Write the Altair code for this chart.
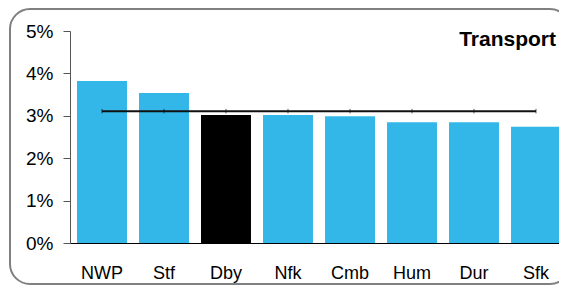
import altair as alt
import pandas as pd

categories = ["NWP", "Stf", "Dby", "Nfk", "Cmb", "Hum", "Dur", "Sfk"]
values = [3.82, 3.54, 3.02, 3.02, 2.99, 2.85, 2.85, 2.74]
average = [3.11, 3.11, 3.11, 3.11, 3.11, 3.11, 3.11, 3.11]
highlight = ["no", "no", "yes", "no", "no", "no", "no", "no"]
y_ticks = [0, 0.01, 0.02, 0.03, 0.04, 0.05]
title_text = "Transport"

df = pd.DataFrame({
    "area": categories,
    "value": [v / 100 for v in values],
    "avg": [a / 100 for a in average],
    "hl": highlight,
})

FONT = "Liberation Sans"

x_scale = alt.Scale(paddingInner=0.194, paddingOuter=0.113, range=[0, 498])
x_enc = alt.X(
    "area:N", sort=categories, scale=x_scale,
    axis=alt.Axis(title=None, labelAngle=0, ticks=False, domainColor="#000000",
                  domainWidth=1, labelFontSize=18, labelPadding=21, labelColor="#000000",
                  labelFont=FONT),
)
y_scale = alt.Scale(domain=[0, 0.05])

border = alt.Chart(pd.DataFrame({"a": [0]})).mark_rect(
    filled=False, stroke="#808080", strokeWidth=2, cornerRadius=20
).encode(x=alt.value(-60), x2=alt.value(500), y=alt.value(-22), y2=alt.value(253))

bars = alt.Chart(df).mark_bar().encode(
    x=x_enc,
    y=alt.Y("value:Q", scale=y_scale,
            axis=alt.Axis(format=".0%", values=y_ticks, title=None, grid=False,
                          tickSize=7, tickColor="#555555", domainColor="#555555",
                          labelPadding=10, labelFontSize=19, labelColor="#000000",
                          labelFont=FONT)),
    color=alt.Color("hl:N", scale=alt.Scale(domain=["no", "yes"], range=["#33B7E8", "#000000"]),
                    legend=None),
)

line = alt.Chart(df).mark_line(color="#111111", strokeWidth=2).encode(
    x=alt.X("area:N", sort=categories),
    y=alt.Y("avg:Q", scale=y_scale),
)
pts = alt.Chart(df).mark_point(shape="stroke", angle=90, size=20, strokeWidth=1,
                               color="#111111").encode(
    x=alt.X("area:N", sort=categories),
    y=alt.Y("avg:Q", scale=y_scale),
)

title = alt.Chart(pd.DataFrame({"t": [title_text]})).mark_text(
    align="right", baseline="alphabetic", fontSize=21, fontWeight="bold", font=FONT,
    color="#000000"
).encode(text="t:N", x=alt.value(486), y=alt.value(15))

chart = alt.layer(border, bars, line, pts, title).properties(
    width=489, height=212,
    autosize=alt.AutoSizeParams(type="none"),
    padding={"left": 62, "top": 23, "right": 0, "bottom": 42},
).configure_view(strokeWidth=0)

chart.save("out.html", embed_options={"renderer": "svg", "actions": False})
